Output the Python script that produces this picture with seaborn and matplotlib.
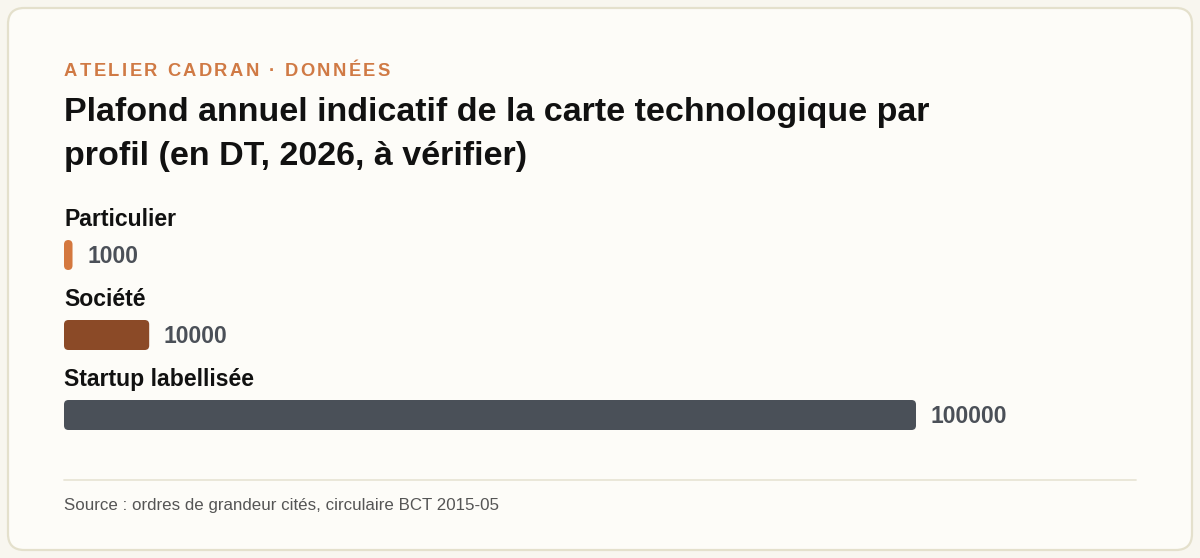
import matplotlib
matplotlib.use("Agg")
import matplotlib.pyplot as plt
from matplotlib.patches import FancyBboxPatch
import seaborn as sns
import pandas as pd

# ---- data ----
categories = ["Particulier", "Société", "Startup labellisée"]
values = [1000, 10000, 100000]
value_labels = ["1000", "10000", "100000"]
bar_colors = ["#d4783f", "#8b4a27", "#4a5058"]

kicker = "ATELIER CADRAN · DONNÉES"
title_lines = ["Plafond annuel indicatif de la carte technologique par",
               "profil (en DT, 2026, à vérifier)"]
source = "Source : ordres de grandeur cités, circulaire BCT 2015-05"

sns.set_theme(style="white")
plt.rcParams["font.family"] = ["Liberation Sans", "DejaVu Sans"]

W, H = 1200, 558
fig = plt.figure(figsize=(W / 100, H / 100), dpi=100)
fig.patch.set_facecolor("#f8f6ef")
renderer = fig.canvas.get_renderer()

def fx(px):
    return px / W

def fy(py):
    return 1 - py / H

# card
card = FancyBboxPatch((fx(8), fy(550)), fx(1184), 542 / H,
                      boxstyle="round,pad=0,rounding_size=0.0135",
                      transform=fig.transFigure, facecolor="#fdfcf8",
                      edgecolor="#e4e0cc", linewidth=1.6,
                      mutation_aspect=W / H, zorder=-5)
fig.patches.append(card)

# kicker with letter spacing
x_px = 64
spacing = 2.4
for ch in kicker:
    t = fig.text(fx(x_px), fy(76), ch, color="#d07a45", fontsize=13.2,
                 fontweight="bold", va="baseline", ha="left")
    if ch == " ":
        probe = fig.text(0, 0, "a a", fontsize=13.2, fontweight="bold")
        probe2 = fig.text(0, 0, "aa", fontsize=13.2, fontweight="bold")
        wch = (probe.get_window_extent(renderer).width
               - probe2.get_window_extent(renderer).width)
        probe.remove()
        probe2.remove()
    else:
        wch = t.get_window_extent(renderer).width
    x_px += wch + spacing

fig.text(fx(64), fy(121), title_lines[0], color="#111111", fontsize=24.5,
         fontweight="bold", va="baseline", ha="left")
fig.text(fx(64), fy(164.5), title_lines[1], color="#111111", fontsize=24.5,
         fontweight="bold", va="baseline", ha="left")

# axes: x 0..100000 maps to px 64..916 ; rows pitch 80px, top at 215
ax_left, ax_right = 64, 916
ax_top, ax_bottom = 215, 455
ax = fig.add_axes([fx(ax_left), fy(ax_bottom), fx(ax_right - ax_left),
                   (ax_bottom - ax_top) / H])
ax.set_facecolor("none")

df = pd.DataFrame({"profil": categories, "plafond": values})
sns.barplot(data=df, x="plafond", y="profil", hue="profil",
            palette=bar_colors, orient="h", width=0.375, ax=ax,
            legend=False, saturation=1)

ax.set_xlim(0, max(values))
ax.set_ylim(2.5, -0.5)
ax.axis("off")

# round the bars
px_per_x = (ax_right - ax_left) / max(values)
for p in list(ax.patches):
    x0, y0 = p.get_x(), p.get_y()
    w, h = p.get_width(), p.get_height()
    fc = p.get_facecolor()
    p.remove()
    r_px = 4.5
    rb = FancyBboxPatch((x0, y0), w, h,
                        boxstyle=f"round,pad=0,rounding_size={r_px / px_per_x}",
                        facecolor=fc, edgecolor="none")
    rb.set_mutation_aspect((1 / 80) * px_per_x)
    ax.add_patch(rb)

for i, (cat, v, lab) in enumerate(zip(categories, values, value_labels)):
    ax.text(0, i - 0.3625, cat, fontsize=16.6, fontweight="bold",
            color="#111111", va="baseline", ha="left")
    ax.annotate(lab, xy=(v, i), xytext=(14.5, -8.3), textcoords="offset pixels",
                fontsize=16.5, fontweight="bold", color="#4b5058",
                va="baseline", ha="left")

# separator and source
fig.add_artist(plt.Line2D([fx(64), fx(1136)], [fy(480), fy(480)],
                          color="#e9e5d6", linewidth=1.3,
                          transform=fig.transFigure))
fig.text(fx(64), fy(510), source, color="#555555", fontsize=12.2,
         va="baseline", ha="left")

fig.savefig("out.png", dpi=100, facecolor=fig.get_facecolor())
